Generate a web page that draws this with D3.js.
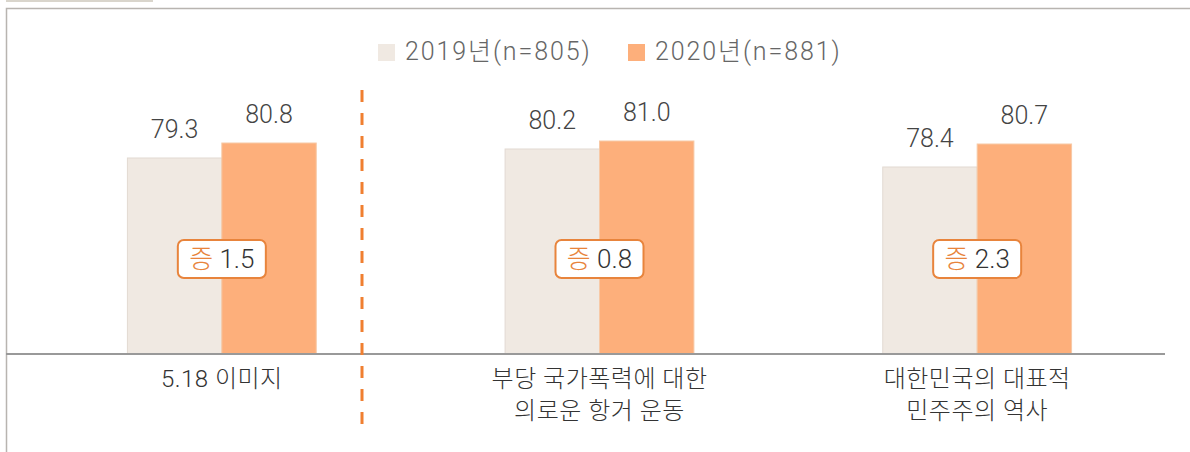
<!DOCTYPE html>
<html>
<head>
<meta charset="utf-8">
<script src="https://cdn.jsdelivr.net/npm/d3@7"></script>
<style>
  body { margin: 0; background: #fff; }
  svg { display: block; font-family: 'Noto Sans CJK KR', 'Noto Sans', sans-serif; }
  .num { font-family: Roboto, 'Noto Sans CJK KR', sans-serif; font-weight: 300; }
</style>
</head>
<body>
<svg></svg>
<script>
var categories = [['5.18 이미지'], ['부당 국가폭력에 대한', '의로운 항거 운동'], ['대한민국의 대표적', '민주주의 역사']];
var series = ['2019년(n=805)', '2020년(n=881)'];
var values2019 = [79.3, 80.2, 78.4];
var values2020 = [80.8, 81.0, 80.7];
var increases = ['1.5', '0.8', '2.3'];
var colors = ['#f0e9e2', '#fdaf7b'];

var width = 1190;
var height = 452;
var baseY = 354;

var svg = d3.select('svg')
  .attr('width', width)
  .attr('height', height);

// frame
svg.append('rect')
  .attr('x', 6).attr('y', 0).attr('width', 147).attr('height', 2)
  .attr('fill', '#d9d5cc');
svg.append('path')
  .attr('d', 'M6.5,' + height + 'V8.5H' + width)
  .attr('fill', 'none')
  .attr('stroke', '#b8b4b0')
  .attr('stroke-width', 1.5);

var data = categories.map(function(c, i) {
  return { cat: i, label: c, vals: [values2019[i], values2020[i]], inc: increases[i] };
});

var x0 = d3.scaleBand()
  .domain(d3.range(categories.length))
  .range([33, 1166])
  .paddingInner(0.5)
  .paddingOuter(0.25);
var x1 = d3.scaleBand()
  .domain([0, 1])
  .range([0, x0.bandwidth()]);
var y = d3.scaleLinear()
  .domain([59.7, 81.0])
  .range([baseY, 141]);

var groups = svg.selectAll('.group')
  .data(data)
  .enter().append('g')
  .attr('class', 'group')
  .attr('transform', function(d) { return 'translate(' + x0(d.cat) + ',0)'; });

groups.selectAll('rect')
  .data(function(d) { return d.vals; })
  .enter().append('rect')
  .attr('x', function(v, i) { return x1(i); })
  .attr('y', function(v) { return y(v); })
  .attr('width', x1.bandwidth())
  .attr('height', function(v) { return baseY - y(v); })
  .attr('fill', function(v, i) { return colors[i]; })
  .attr('stroke', function(v, i) { return i === 0 ? '#e2dad2' : '#f7c9a6'; })
  .attr('stroke-width', 1);

groups.selectAll('.val')
  .data(function(d) { return d.vals; })
  .enter().append('text')
  .attr('class', 'val num')
  .attr('x', function(v, i) { return x1(i) + x1.bandwidth() / 2; })
  .attr('y', function(v) { return y(v) - 20; })
  .attr('text-anchor', 'middle')
  .attr('font-size', 25)
  .attr('fill', '#444')
  .text(function(v) { return v.toFixed(1); });

// increase badge
var badge = groups.append('g')
  .attr('transform', 'translate(' + x0.bandwidth() / 2 + ',259)');
badge.append('rect')
  .attr('x', -44).attr('y', -19).attr('width', 88).attr('height', 38)
  .attr('rx', 6)
  .attr('fill', '#fff')
  .attr('stroke', '#e8843c')
  .attr('stroke-width', 2);
var badgeText = badge.append('text')
  .attr('class', 'num')
  .attr('text-anchor', 'middle')
  .attr('y', 9)
  .attr('font-size', 26);
badgeText.append('tspan').attr('fill', '#e8843c').text('증 ');
badgeText.append('tspan').attr('fill', '#333').text(function(d) { return d.inc; });

// category labels
groups.append('text')
  .attr('class', 'num')
  .attr('text-anchor', 'middle')
  .attr('font-size', 24)
  .attr('letter-spacing', 0.5)
  .attr('fill', '#333')
  .selectAll('tspan')
  .data(function(d) { return d.label; })
  .enter().append('tspan')
  .attr('x', x0.bandwidth() / 2)
  .attr('y', function(t, i) { return 387 + i * 32; })
  .text(function(t) { return t; });

// baseline
svg.append('line')
  .attr('x1', 6).attr('x2', 1165)
  .attr('y1', baseY).attr('y2', baseY)
  .attr('stroke', '#999')
  .attr('stroke-width', 2);

// divider
svg.append('line')
  .attr('x1', 362).attr('x2', 362)
  .attr('y1', 90).attr('y2', 430)
  .attr('stroke', '#f07f30')
  .attr('stroke-width', 3)
  .attr('stroke-dasharray', '12,11');

// legend
var legend = svg.append('g');
var legendX = [378, 628];
series.forEach(function(s, i) {
  legend.append('rect')
    .attr('x', legendX[i]).attr('y', 44).attr('width', 17).attr('height', 17)
    .attr('fill', colors[i]);
  legend.append('text')
    .attr('class', 'num')
    .attr('x', legendX[i] + 27).attr('y', 60)
    .attr('font-size', 25)
    .attr('letter-spacing', 1.9)
    .attr('fill', '#666')
    .text(s);
});
</script>
</body>
</html>
